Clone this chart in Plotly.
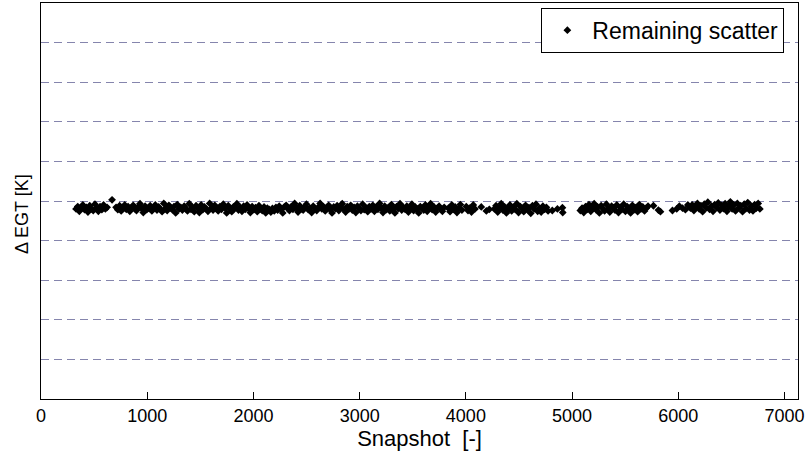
import plotly.graph_objects as go

# ---- data (snapshot index, delta EGT) ----
seg_a_x = [330, 346, 361, 379, 394, 410, 427, 442, 459, 475, 492, 508, 523, 540, 556, 573, 589, 606, 622, 669]
seg_a_y = [-0.20, -0.14, -0.26, -0.18, -0.10, -0.22, -0.16, -0.28, -0.12, -0.20,
           -0.24, -0.08, -0.18, -0.26, -0.14, -0.22, -0.10, -0.20, -0.16, 0.03]

seg_b_x = [707, 723, 740, 755, 772, 788, 803, 820, 836, 851,
           868, 884, 899, 916, 932, 948, 963, 980, 996, 1011,
           1028, 1044, 1059, 1076, 1092, 1108, 1123, 1140, 1156, 1171,
           1188, 1204, 1219, 1236, 1252, 1268, 1283, 1300, 1316, 1331,
           1348, 1364, 1379, 1396, 1412, 1428, 1443, 1460, 1476, 1491,
           1508, 1524, 1539, 1556, 1572, 1588, 1603, 1620, 1636, 1651,
           1668, 1684, 1699, 1716, 1732, 1748, 1763, 1780, 1796, 1811,
           1828, 1844, 1859, 1876, 1892, 1908, 1923, 1940, 1956, 1971,
           1988, 2004, 2019, 2036, 2052, 2068, 2083, 2100, 2116, 2131,
           2148, 2164, 2179, 2196, 2212, 2228, 2243, 2260, 2276, 2291,
           2308, 2324, 2339, 2356, 2372, 2388, 2403, 2420, 2436, 2451,
           2468, 2484, 2499, 2516, 2532, 2548, 2563, 2580, 2596, 2611,
           2628, 2644, 2659, 2676, 2692, 2708, 2723, 2740, 2756, 2771,
           2788, 2804, 2819, 2836, 2852, 2868, 2883, 2900, 2916, 2931,
           2948, 2964, 2979, 2996, 3012, 3028, 3043, 3060, 3076, 3091,
           3108, 3124, 3139, 3156, 3172, 3188, 3203, 3220, 3236, 3251,
           3268, 3284, 3299, 3316, 3332, 3348, 3363, 3380, 3396, 3411,
           3428, 3444, 3459, 3476, 3492, 3508, 3523, 3540, 3556, 3571,
           3588, 3604, 3619, 3636, 3652, 3668, 3683, 3700, 3716, 3731,
           3748, 3764, 3779, 3796]
seg_b_y = [-0.16, -0.22, -0.12, -0.25, -0.18, -0.10, -0.21, -0.14, -0.26, -0.17,
           -0.11, -0.20, -0.24, -0.15, -0.07, -0.19, -0.29, -0.13, -0.22, -0.17,
           -0.12, -0.25, -0.18, -0.10, -0.23, -0.15, -0.20, -0.27, -0.06, -0.19,
           -0.24, -0.11, -0.17, -0.22, -0.14, -0.30, -0.09, -0.20, -0.16, -0.23,
           -0.13, -0.19, -0.25, -0.07, -0.21, -0.16, -0.27, -0.12, -0.18, -0.29,
           -0.10, -0.22, -0.15, -0.20, -0.26, -0.06, -0.18, -0.23, -0.11, -0.19,
           -0.25, -0.14, -0.21, -0.08, -0.17, -0.30, -0.12, -0.20, -0.27, -0.15,
           -0.18, -0.07, -0.23, -0.16, -0.26, -0.13, -0.21, -0.10, -0.19, -0.29,
           -0.14, -0.22, -0.17, -0.27, -0.12, -0.20, -0.24, -0.15, -0.30, -0.18,
           -0.21, -0.28, -0.19, -0.25, -0.16, -0.23, -0.13, -0.20, -0.30, -0.15,
           -0.11, -0.19, -0.24, -0.14, -0.21, -0.06, -0.17, -0.28, -0.12, -0.20,
           -0.23, -0.15, -0.08, -0.22, -0.18, -0.29, -0.13, -0.19, -0.24, -0.16,
           -0.06, -0.20, -0.14, -0.25, -0.17, -0.11, -0.22, -0.30, -0.15, -0.19,
           -0.12, -0.24, -0.18, -0.07, -0.21, -0.28, -0.14, -0.20, -0.11, -0.23,
           -0.16, -0.29, -0.13, -0.19, -0.24, -0.08, -0.22, -0.17, -0.27, -0.14,
           -0.20, -0.11, -0.26, -0.15, -0.21, -0.06, -0.18, -0.29, -0.13, -0.22,
           -0.17, -0.25, -0.09, -0.20, -0.30, -0.14, -0.19, -0.07, -0.23, -0.16,
           -0.21, -0.13, -0.28, -0.18, -0.08, -0.24, -0.15, -0.20, -0.30, -0.14,
           -0.19, -0.23, -0.10, -0.26, -0.17, -0.07, -0.22, -0.15, -0.28, -0.18,
           -0.13, -0.21, -0.26, -0.16]

seg_c_x = [3835, 3851, 3868, 3884, 3899, 3916, 3932, 3948, 3963,
           4004, 4020, 4037, 4053, 4070, 4086, 4145, 4193, 4221]
seg_c_y = [-0.18, -0.27, -0.10, -0.21, -0.15, -0.29, -0.19, -0.09, -0.23,
           -0.14, -0.24, -0.18, -0.28, -0.10, -0.20, -0.15, -0.25, -0.21]

seg_e_x = [4268, 4284, 4300, 4317, 4333, 4349, 4366, 4382, 4398, 4415,
           4431, 4447, 4464, 4480, 4496, 4513, 4529, 4545, 4562, 4578,
           4594, 4611, 4627, 4643, 4660, 4676, 4692, 4709, 4725, 4741,
           4758, 4774, 4814, 4862, 4909, 4912]
seg_e_y = [-0.20, -0.12, -0.28, -0.17, -0.07, -0.23, -0.15, -0.30, -0.19, -0.10,
           -0.25, -0.16, -0.21, -0.07, -0.29, -0.14, -0.19, -0.27, -0.11, -0.22,
           -0.17, -0.31, -0.12, -0.20, -0.08, -0.26, -0.18, -0.28, -0.13, -0.21,
           -0.16, -0.25, -0.24, -0.20, -0.17, -0.29]

seg_f_x = [5078, 5094, 5110, 5127, 5143, 5159, 5176, 5192, 5208, 5225,
           5241, 5257, 5274, 5290, 5306, 5323, 5339, 5355, 5372, 5388,
           5404, 5421, 5437, 5453, 5470, 5486, 5502, 5519, 5535, 5551,
           5568, 5584, 5600, 5617, 5633, 5649, 5666, 5682, 5698, 5715,
           5766, 5813, 5832, 5945, 5985, 6010, 6040, 6067, 6090]
seg_f_y = [-0.24, -0.18, -0.29, -0.14, -0.21, -0.09, -0.26, -0.17, -0.07, -0.22,
           -0.15, -0.30, -0.12, -0.19, -0.25, -0.08, -0.20, -0.28, -0.13, -0.17,
           -0.23, -0.10, -0.29, -0.16, -0.21, -0.08, -0.26, -0.14, -0.19, -0.30,
           -0.11, -0.22, -0.17, -0.27, -0.09, -0.20, -0.15, -0.25, -0.18, -0.13,
           -0.12, -0.23, -0.27, -0.24, -0.20, -0.13, -0.18, -0.22, -0.10]

seg_g_x = [6115, 6131, 6147, 6164, 6180, 6196, 6213, 6229, 6245, 6262,
           6278, 6294, 6311, 6327, 6343, 6360, 6376, 6392, 6409, 6425,
           6441, 6458, 6474, 6490, 6507, 6523, 6539, 6556, 6572, 6588,
           6605, 6621, 6637, 6654, 6670, 6686, 6703, 6719, 6735, 6752,
           6768]
seg_g_y = [-0.18, -0.10, -0.24, -0.14, -0.06, -0.20, -0.12, -0.27, -0.08, -0.17,
           -0.03, -0.21, -0.13, -0.26, -0.09, -0.16, -0.05, -0.23, -0.11, -0.19,
           -0.07, -0.26, -0.14, -0.02, -0.20, -0.10, -0.25, -0.06, -0.17, -0.12,
           -0.27, -0.08, -0.19, -0.04, -0.23, -0.13, -0.25, -0.09, -0.18, -0.06,
           -0.20]

x_ticks = [0, 1000, 2000, 3000, 4000, 5000, 6000, 7000]
y_grid = [-4, -3, -2, -1, 0, 1, 2, 3, 4]

snap = seg_a_x + seg_b_x + seg_c_x + seg_e_x + seg_f_x + seg_g_x
degt = seg_a_y + seg_b_y + seg_c_y + seg_e_y + seg_f_y + seg_g_y

FONT = "Liberation Sans, Arial, sans-serif"

fig = go.Figure()
fig.add_trace(go.Scatter(
    x=snap, y=degt, mode="markers", name="Remaining scatter",
    marker=dict(symbol="diamond", size=6, color="black", line=dict(width=0)),
))

fig.update_layout(
    width=810, height=459,
    margin=dict(l=41, r=12, t=3, b=60),
    plot_bgcolor="white", paper_bgcolor="white",
    font=dict(family=FONT, size=18, color="black"),
    showlegend=True,
    legend=dict(x=0.982, y=0.988, xanchor="right", yanchor="top",
                bordercolor="black", borderwidth=1, bgcolor="white",
                itemwidth=40, tracegroupgap=0,
                font=dict(size=23, family=FONT)),
    annotations=[dict(
        text="Δ EGT [K]", textangle=-90, showarrow=False,
        xref="paper", yref="paper", x=0, y=0.467, xshift=-19,
        xanchor="center", yanchor="middle",
        font=dict(size=18, family=FONT, color="black"),
    )],
)
fig.update_xaxes(
    range=[0, 7127], tickvals=x_ticks, ticktext=[str(v) for v in x_ticks],
    showline=True, linecolor="black", linewidth=1, mirror=True,
    ticks="inside", ticklen=7, tickcolor="black",
    showgrid=False, zeroline=False,
    tickfont=dict(size=18, family=FONT),
    title=dict(text="Snapshot  [-]", font=dict(size=22, family=FONT), standoff=2),
)
fig.update_yaxes(
    range=[-5, 5], tickvals=y_grid, showticklabels=False,
    showline=True, linecolor="black", linewidth=1, mirror=True,
    ticks="", showgrid=True, gridcolor="#8585ad", gridwidth=1, griddash="8px,5px",
    zeroline=False,
)

fig.write_html("out.html")
